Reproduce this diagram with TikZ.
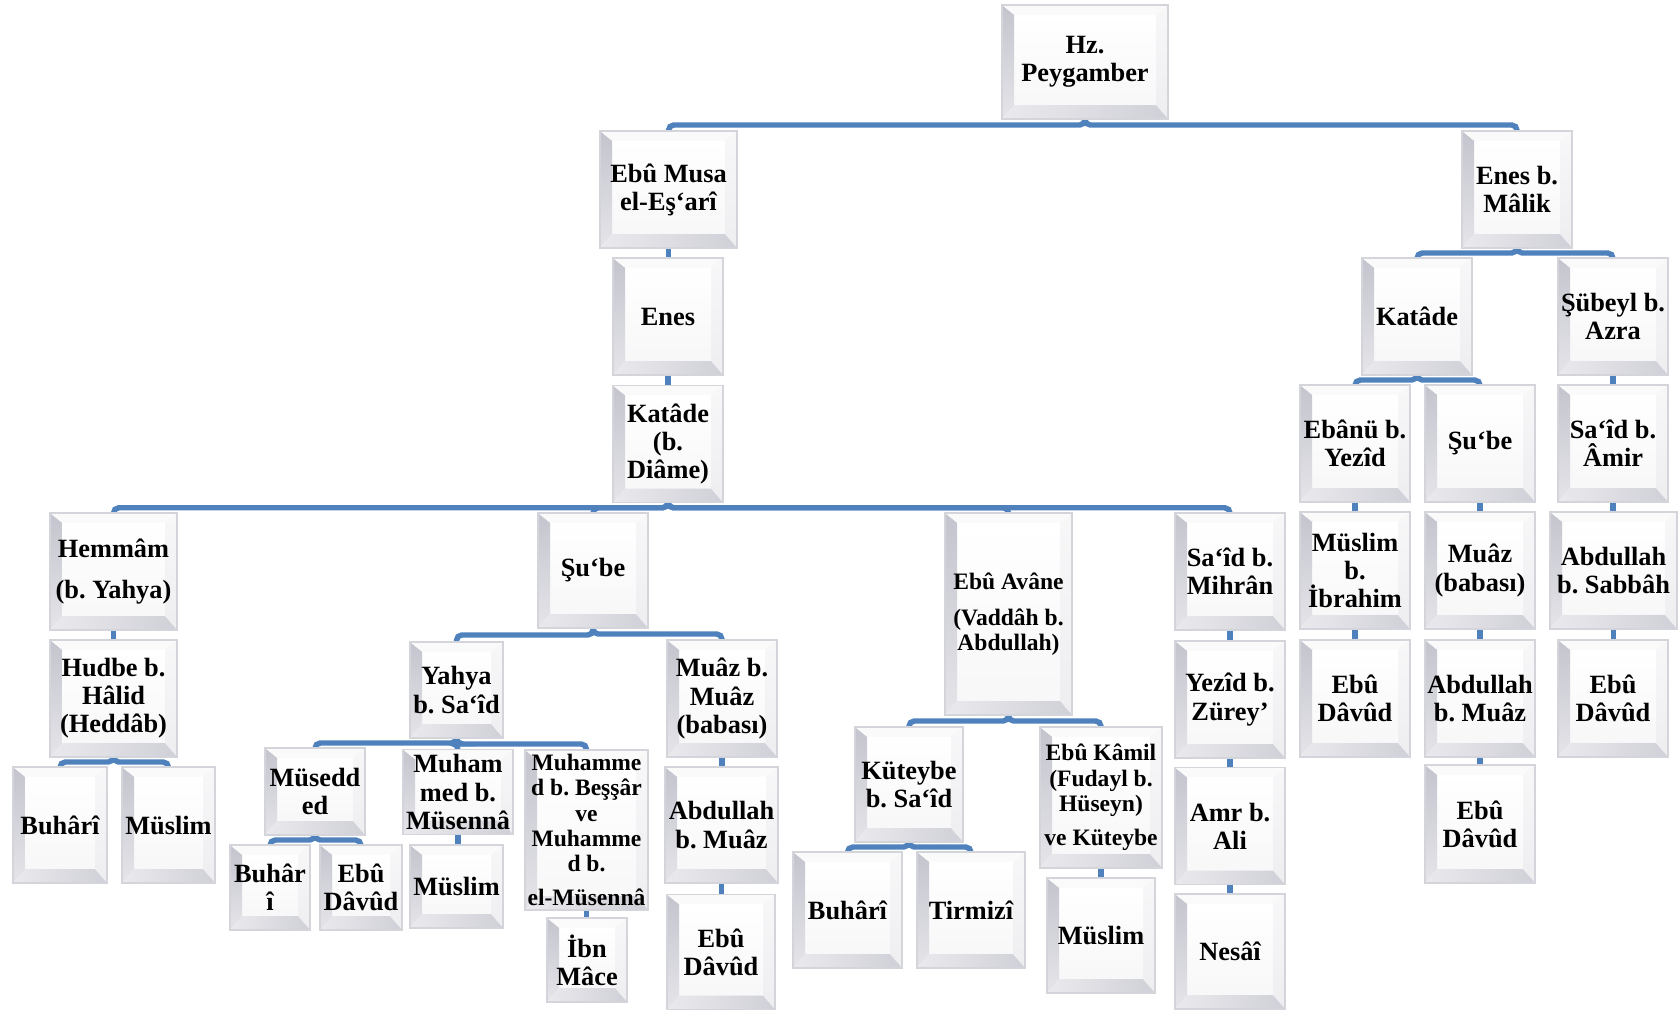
\documentclass[tikz,border=0pt]{standalone}
\usepackage{fontspec}
\setmainfont{Liberation Serif}
\frenchspacing
\usetikzlibrary{backgrounds,calc}
\definecolor{linkblue}{RGB}{79,129,189}
\definecolor{bevgray}{RGB}{160,160,176}
\newcommand\bv{0.24cm}
\newcommand\mybevel{%
  \path (path picture bounding box.south west) coordinate (pA)
        (path picture bounding box.south east) coordinate (pB)
        (path picture bounding box.north east) coordinate (pC)
        (path picture bounding box.north west) coordinate (pD);
  \path ([shift={(\bv,1.15*\bv)}]pA) coordinate (iA)
        ([shift={(-\bv,1.15*\bv)}]pB) coordinate (iB)
        ([shift={(-\bv,-0.8*\bv)}]pC) coordinate (iC)
        ([shift={(\bv,-0.8*\bv)}]pD) coordinate (iD);
  \shade[top color=white, bottom color=bevgray!8] (iA) rectangle (iC);
  \shade[top color=bevgray!62, bottom color=bevgray!28] (pA) -- (pD) -- (iD) -- (iA) -- cycle;
  \fill[bevgray!5] (pD) -- (pC) -- (iC) -- (iD) -- cycle;
  \shade[top color=bevgray!8, bottom color=bevgray!18] (pC) -- (pB) -- (iB) -- (iC) -- cycle;
  \shade[left color=bevgray!22, right color=bevgray!50] (pA) -- (pB) -- (iB) -- (iA) -- cycle;
}
\tikzset{
  box/.style={rectangle, draw=bevgray!45, line width=0.8pt, align=center, inner sep=0pt,
    font=\fontsize{15}{16}\selectfont\bfseries, path picture={\mybevel}},
  sm/.style={font=\fontsize{13.4}{14.4}\selectfont\bfseries},
  sz/.style 2 args={minimum width={(#1)*0.02cm}, minimum height={(#2)*0.02cm}},
  link/.style={draw=linkblue, line width=3.1pt, rounded corners=3pt},
}
% \Bx{name}{cx}{cy}{w}{h}{text}
\newcommand\Bx[6]{\node[box,sz={#4}{#5}] (#1) at (#2,#3) {#6};}
\newcommand\Bs[6]{\node[box,sm,sz={#4}{#5}] (#1) at (#2,#3) {#6};}
\newcommand\lk[2]{\draw[link] (#1.south) |- ($(#1.south)!.5!(#2.north)$) -| (#2.north);}
\newcommand\lv[2]{\draw[link] (#1.south) -- (#1.south |- #2.north);}
\begin{document}
\begin{tikzpicture}[x=0.02cm,y=-0.02cm]
\useasboundingbox (0,0) rectangle (1679,1012);
% level 0-1
\Bx{HP}{1085}{62}{166}{114}{Hz.\\Peygamber}
\Bx{EbuMusa}{668.5}{189.5}{137}{117}{Ebû Musa\\el-Eş‘arî}
\Bx{EnesMalik}{1517}{189.5}{110}{117}{Enes b.\\Mâlik}
\Bx{Enes}{668}{316.5}{110}{117}{Enes}
\Bx{KatadeD}{668}{444}{110}{117}{Katâde\\(b.\\Diâme)}
% left family
\Bx{Hemmam}{113.5}{571.5}{127}{117}{Hemmâm\\[7pt](b. Yahya)}
\Bx{Hudbe}{113.5}{698.5}{127}{117}{Hudbe b.\\Hâlid\\(Heddâb)}
\Bx{BuhariA}{60}{825}{94}{116}{Buhârî}
\Bx{MuslimA}{168.5}{825}{93}{116}{Müslim}
% Şu'be family
\Bx{Sube}{593}{570.5}{110}{115}{Şu‘be}
\Bx{Yahya}{456.5}{690}{93}{96}{Yahya\\b. Sa‘îd}
\Bx{MuazMuaz}{722}{698.5}{110}{117}{Muâz b.\\Muâz\\(babası)}
\Bx{Musedded}{315}{791.5}{100}{87}{Müsedd\\ed}
\Bx{MuhMusenna}{458}{792}{110}{85}{Muham\\med b.\\Müsennâ}
\Bs{MuhBessar}{586.5}{830}{123}{160}{Muhamme\\d b. Beşşâr\\ve\\Muhamme\\d b.\\[5pt]el-Müsennâ}
\Bx{BuhariB}{270}{887.5}{80}{85}{Buhâr\\î}
\Bx{EbuDavudB}{361}{887.5}{82}{85}{Ebû\\Dâvûd}
\Bx{MuslimB}{456.5}{886.5}{93}{83}{Müslim}
\Bx{IbnMace}{587}{960}{80}{84}{İbn\\Mâce}
\Bx{AbdMuazA}{721.5}{825}{113}{116}{Abdullah\\b. Muâz}
\Bx{EbuDavudC}{721}{952}{108}{115}{Ebû\\Dâvûd}
% Ebû Avâne family
\Bs{EbuAvane}{1008.5}{614}{127}{202}{Ebû Avâne\\[6pt](Vaddâh b.\\Abdullah)}
\Bx{Kuteybe}{909}{784.5}{108}{115}{Küteybe\\b. Sa‘îd}
\Bs{EbuKamil}{1101}{797.5}{122}{141}{Ebû Kâmil\\(Fudayl b.\\Hüseyn)\\[5pt]ve Küteybe}
\Bx{BuhariC}{847.5}{910}{109}{116}{Buhârî}
\Bx{Tirmizi}{971}{910}{108}{116}{Tirmizî}
\Bx{MuslimC}{1101}{935.5}{108}{115}{Müslim}
% Sa'îd b. Mihrân column
\Bx{SaidMihran}{1230}{571.5}{110}{117}{Sa‘îd b.\\Mihrân}
\Bx{Yezid}{1230}{699.5}{110}{117}{Yezîd b.\\Zürey’}
\Bx{Amr}{1230}{826}{110}{117}{Amr b.\\Ali}
\Bx{Nesai}{1230}{951.5}{110}{115}{Nesâî}
% Enes b. Mâlik family
\Bx{KatadeR}{1417}{316.5}{110}{117}{Katâde}
\Bx{Subeyl}{1613}{316.5}{110}{117}{Şübeyl b.\\Azra}
\Bx{Ebanu}{1355}{443.5}{110}{117}{Ebânü b.\\Yezîd}
\Bx{SubeR}{1480}{443.5}{110}{117}{Şu‘be}
\Bx{SaidAmir}{1613}{443.5}{110}{117}{Sa‘îd b.\\Âmir}
\Bx{MuslimIbr}{1355}{570.5}{110}{117}{Müslim\\b.\\İbrahim}
\Bx{MuazBabasi}{1480}{570.5}{110}{117}{Muâz\\(babası)}
\Bx{AbdSabbah}{1613.5}{570.5}{127}{117}{Abdullah\\b. Sabbâh}
\Bx{EbuDavudD}{1355}{698.5}{110}{117}{Ebû\\Dâvûd}
\Bx{AbdMuazB}{1480}{698.5}{110}{117}{Abdullah\\b. Muâz}
\Bx{EbuDavudF}{1613}{698.5}{110}{117}{Ebû\\Dâvûd}
\Bx{EbuDavudE}{1480}{824}{110}{118}{Ebû\\Dâvûd}
% connectors
\begin{scope}[on background layer]
\lk{HP}{EbuMusa} \lk{HP}{EnesMalik}
\lv{EbuMusa}{Enes} \lv{Enes}{KatadeD}
\lk{KatadeD}{Hemmam} \lk{KatadeD}{Sube} \lk{KatadeD}{EbuAvane} \lk{KatadeD}{SaidMihran}
\lv{Hemmam}{Hudbe}
\lk{Hudbe}{BuhariA} \lk{Hudbe}{MuslimA}
\lk{Sube}{Yahya} \lk{Sube}{MuazMuaz}
\lk{Yahya}{Musedded} \lk{Yahya}{MuhMusenna} \lk{Yahya}{MuhBessar}
\lk{Musedded}{BuhariB} \lk{Musedded}{EbuDavudB}
\lv{MuhMusenna}{MuslimB}
\lv{MuhBessar}{IbnMace}
\lv{MuazMuaz}{AbdMuazA} \lv{AbdMuazA}{EbuDavudC}
\lk{EbuAvane}{Kuteybe} \lk{EbuAvane}{EbuKamil}
\lk{Kuteybe}{BuhariC} \lk{Kuteybe}{Tirmizi}
\lv{EbuKamil}{MuslimC}
\lv{SaidMihran}{Yezid} \lv{Yezid}{Amr} \lv{Amr}{Nesai}
\lk{EnesMalik}{KatadeR} \lk{EnesMalik}{Subeyl}
\lk{KatadeR}{Ebanu} \lk{KatadeR}{SubeR}
\lv{Ebanu}{MuslimIbr} \lv{MuslimIbr}{EbuDavudD}
\lv{SubeR}{MuazBabasi} \lv{MuazBabasi}{AbdMuazB} \lv{AbdMuazB}{EbuDavudE}
\lv{Subeyl}{SaidAmir} \lv{SaidAmir}{AbdSabbah} \lv{AbdSabbah}{EbuDavudF}
\end{scope}
\end{tikzpicture}
\end{document}
